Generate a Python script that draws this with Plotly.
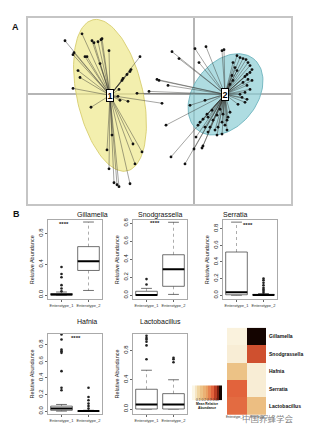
import numpy as np
import plotly.graph_objects as go

W, H = 323, 431
FONT = "Liberation Sans, Arial, sans-serif"

# ---------------- Panel A data (ordination scores) ----------------
c1_x = [-129, -112, -102, -100, -96, -93, -92, -85, -120, -121, -109, -107, -116, -114, -121,
        -54, -63, -64, -67, -72, -71, -66, -74, -76, -103, -32, -82, -87, -61, -52, -59, -85,
        -80, -77, -75, -64, -94, -75]
c1_y = [54, 61, 54, 52, 53, 55, 56, 44, 42, 40, 38, 38, 24, 17, 6,
        38, 25, 23, 20, 14, 16, -7, -6, -2, -13, -9, -41, -56, -50, -58, -70, -75,
        -89, -91, -93, -90, 31, 5]
c2_x = [-22, -15, 1, 12, 5, 28, 30, -37, -35, -26, -57, -45, -28, -23, -9, 0, 8, 9,
        46, 49, 52, 54, 56, 58, 56, 53, 51, 54, 58, 49, 53, 56, 51, 46, 48, 53, 51, 44,
        39, 41, 43, 38, 39, 36, 43,
        26, 29, 23, 19, 28, 31, 24, 16, 21, 14, 11, 6, 4, 9, 13, 18, 33, 34, 36, 28, 23, 33, 14, 2, 11, -4]
c2_y = [43, 36, 46, 48, 32, 44, 45, 15, 14, 9, 1, 3, -31, -63, -70, -55, -54, -52,
        37, 36, 35, 32, 29, 25, 22, 20, 18, 15, 14, 12, 9, 5, 2, 0, -3, -5, -8, -10,
        32, 27, 24, 19, 14, 10, 39,
        -15, -20, -21, -26, -28, -31, -33, -33, -36, -38, -33, -28, -31, -25, -20, -16, -26, -23, -18, -40, -41, -36, -23, -43, -6, -11]
centroid_x = [-84, 31]
centroid_y = [-1, 0]
centroid_labels = ["1", "2"]
# ellipse parameters: centre x, centre y, semi-major, semi-minor, angle (deg)
ell1 = (-84, -1, 78, 33, 102.6)
ell2 = (31.5, 0, 45.5, 31.8, 52.5)

# ---------------- Panel B data (box statistics) ----------------
genera = ["Gillamella", "Snodgrassella", "Serratia", "Hafnia", "Lactobacillus"]
e1_q1 = [0.0, 0.0, 0.005, 0.01, 0.0]
e1_med = [0.008, 0.004, 0.035, 0.03, 0.06]
e1_q3 = [0.02, 0.045, 0.52, 0.06, 0.27]
e1_lo = [0.0, 0.0, 0.0, 0.0, 0.0]
e1_hi = [0.04, 0.077, 0.88, 0.08, 0.53]
e1_out = [[0.05, 0.086, 0.129, 0.232, 0.275, 0.365],
          [0.12, 0.18],
          [],
          [0.25, 0.28, 0.48, 0.70, 0.72, 0.74, 0.86, 0.92],
          [0.68, 0.87, 0.92, 0.95, 0.97, 1.0]]
e2_q1 = [0.32, 0.10, 0.0, 0.0, 0.0]
e2_med = [0.44, 0.29, 0.003, 0.0, 0.06]
e2_q3 = [0.63, 0.45, 0.01, 0.005, 0.21]
e2_lo = [0.06, 0.01, 0.0, 0.0, 0.0]
e2_hi = [0.95, 0.81, 0.02, 0.01, 0.40]
e2_out = [[], [], [0.03, 0.05, 0.07, 0.09, 0.12, 0.15, 0.18, 0.2],
          [0.03, 0.06, 0.09, 0.13, 0.17, 0.28],
          [0.64, 0.68, 0.70]]
sig_x = [1.08, 1.33, 1.44, 1.54, None]
sig_y = [0.92, 0.80, 0.84, 0.88, None]
y_ranges = [[-0.05, 0.97], [-0.04, 0.83], [-0.045, 0.90], [-0.036, 0.93], [-0.07, 1.03]]
y_ticks = [[0, 0.4, 0.8], [0, 0.2, 0.4, 0.6, 0.8], [0, 0.2, 0.4, 0.6, 0.8],
           [0, 0.2, 0.4, 0.6, 0.8], [0, 0.4, 0.8]]
groups = ["Enterotype_1", "Enterotype_2"]

# heatmap data
heat_rows = ["Gillamella", "Snodgrassella", "Hafnia", "Serratia", "Lactobacillus"]
heat_e1 = [0.01, 0.02, 0.12, 0.28, 0.27]
heat_e2 = [0.47, 0.30, 0.02, 0.02, 0.13]
legend_vals = [0.0, 0.04, 0.08, 0.12, 0.16, 0.2, 0.24, 0.28, 0.32, 0.36, 0.4]
legend_ticks = "0.1 0.2 0.3 0.4+"

cscale = [[0.0, "#fbf6e6"], [0.25, "#edcb8f"], [0.5, "#e9a062"], [0.7, "#e2633c"],
          [0.85, "#a92b16"], [1.0, "#140400"]]

# ---------------- helpers ----------------
def px_x(p):
    return p / W

def px_y(p):
    return 1 - p / H

fig = go.Figure()

def ellipse(cx, cy, a, b, ang):
    t = np.linspace(0, 2 * np.pi, 120)
    th = np.deg2rad(ang)
    x = cx + a * np.cos(t) * np.cos(th) - b * np.sin(t) * np.sin(th)
    y = cy + a * np.cos(t) * np.sin(th) + b * np.sin(t) * np.cos(th)
    return x, y

ex, ey = ellipse(*ell1)
fig.add_trace(go.Scatter(x=ex, y=ey, mode="lines", fill="toself",
                         fillcolor="rgba(238,232,140,0.7)",
                         line=dict(color="rgba(215,205,110,0.9)", width=1),
                         hoverinfo="skip", showlegend=False, xaxis="x", yaxis="y"))
ex, ey = ellipse(*ell2)
fig.add_trace(go.Scatter(x=ex, y=ey, mode="lines", fill="toself",
                         fillcolor="rgba(140,205,212,0.7)",
                         line=dict(color="rgba(110,180,190,0.9)", width=1),
                         hoverinfo="skip", showlegend=False, xaxis="x", yaxis="y"))

for xs, ys, k in [(c1_x, c1_y, 0), (c2_x, c2_y, 1)]:
    lx, ly = [], []
    for a, b in zip(xs, ys):
        lx += [centroid_x[k], a, None]
        ly += [centroid_y[k], b, None]
    fig.add_trace(go.Scatter(x=lx, y=ly, mode="lines",
                             line=dict(color="rgba(55,55,50,0.5)", width=0.9),
                             hoverinfo="skip", showlegend=False, xaxis="x", yaxis="y"))
    fig.add_trace(go.Scatter(x=xs, y=ys, mode="markers",
                             marker=dict(color="#111", size=2.8),
                             hoverinfo="skip", showlegend=False, xaxis="x", yaxis="y"))

annotations = []
for cx, cy, lab in zip(centroid_x, centroid_y, centroid_labels):
    annotations.append(dict(x=cx, y=cy, xref="x", yref="y", text="<b>%s</b>" % lab,
                            showarrow=False, font=dict(family=FONT, size=9, color="black"),
                            bgcolor="white", bordercolor="black", borderwidth=1, borderpad=0.5))

# ---------------- boxplots ----------------
col_px = [(48, 102), (133, 187), (223, 277), (48, 102), (133, 187)]
row_px = [(219, 298), (219, 298), (219, 298), (333, 414), (333, 414)]
title_pos = [(75, 213), (160, 213), (250, 213), (75, 326), (160, 326)]

def add_box(xa, ya, c, q1, med, q3, lo, hi, outs):
    w = 0.4
    fig.add_trace(go.Scatter(x=[c, c, None, c, c], y=[q3, hi, None, q1, lo], mode="lines",
                             line=dict(color="#888", width=0.7, dash="dot"),
                             hoverinfo="skip", showlegend=False, xaxis=xa, yaxis=ya))
    fig.add_trace(go.Scatter(x=[c - 0.2, c + 0.2, None, c - 0.2, c + 0.2], y=[hi, hi, None, lo, lo],
                             mode="lines", line=dict(color="#333", width=0.7),
                             hoverinfo="skip", showlegend=False, xaxis=xa, yaxis=ya))
    fig.add_trace(go.Scatter(x=[c - w, c + w, c + w, c - w, c - w], y=[q1, q1, q3, q3, q1],
                             mode="lines", fill="toself", fillcolor="white",
                             line=dict(color="#333", width=0.7),
                             hoverinfo="skip", showlegend=False, xaxis=xa, yaxis=ya))
    fig.add_trace(go.Scatter(x=[c - w, c + w], y=[med, med], mode="lines",
                             line=dict(color="black", width=2),
                             hoverinfo="skip", showlegend=False, xaxis=xa, yaxis=ya))
    if outs:
        fig.add_trace(go.Scatter(x=[c] * len(outs), y=outs, mode="markers",
                                 marker=dict(color="#222", size=2.6),
                                 hoverinfo="skip", showlegend=False, xaxis=xa, yaxis=ya))

layout_axes = {}
for i, g in enumerate(genera):
    n = i + 2
    xa, ya = "x%d" % n, "y%d" % n
    add_box(xa, ya, 1, e1_q1[i], e1_med[i], e1_q3[i], e1_lo[i], e1_hi[i], e1_out[i])
    add_box(xa, ya, 2, e2_q1[i], e2_med[i], e2_q3[i], e2_lo[i], e2_hi[i], e2_out[i])
    if sig_x[i] is not None:
        annotations.append(dict(x=sig_x[i], y=sig_y[i], xref=xa, yref=ya, text="<b>****</b>",
                                showarrow=False, font=dict(family=FONT, size=6, color="#222")))
    x0, x1 = col_px[i]
    y0, y1 = row_px[i]
    layout_axes["xaxis%d" % n] = dict(domain=[px_x(x0), px_x(x1)], range=[0.5, 2.5],
                                      anchor=ya, tickvals=[1, 2], ticktext=groups,
                                      tickangle=0,
                                      tickfont=dict(family=FONT, size=4, color="#333"),
                                      ticks="outside", ticklen=2, tickcolor="#666",
                                      showline=True, linecolor="#aaa", linewidth=0.8,
                                      mirror=True, showgrid=False, zeroline=False)
    layout_axes["yaxis%d" % n] = dict(domain=[px_y(y1), px_y(y0)], range=y_ranges[i],
                                      anchor=xa, tickvals=y_ticks[i],
                                      ticktext=["%.1f" % v for v in y_ticks[i]],
                                      tickangle=-90,
                                      tickfont=dict(family=FONT, size=6, color="#222"),
                                      ticks="outside", ticklen=2, tickcolor="#666",
                                      showline=True, linecolor="#aaa", linewidth=0.8,
                                      mirror=True, showgrid=False, zeroline=False,
                                      title=dict(text="Relative Abundance", standoff=2,
                                                 font=dict(family=FONT, size=5.5, color="#222")))
    tx, ty = title_pos[i]
    annotations.append(dict(x=px_x(tx), y=px_y(ty), xref="paper", yref="paper", text=g,
                            showarrow=False, font=dict(family=FONT, size=7, color="#111")))

# ---------------- heatmap ----------------
fig.add_trace(go.Heatmap(z=[[a, b] for a, b in zip(heat_e1, heat_e2)], x=groups, y=heat_rows,
                         colorscale=cscale, zmin=0, zmax=0.4, showscale=False,
                         hoverinfo="skip", xaxis="x7", yaxis="y7"))
layout_axes["xaxis7"] = dict(domain=[px_x(227), px_x(266)], anchor="y7", showgrid=False,
                             zeroline=False, ticks="", showticklabels=False)
layout_axes["yaxis7"] = dict(domain=[px_y(415), px_y(327)], anchor="x7", side="right",
                             autorange="reversed", showgrid=False, zeroline=False, ticks="",
                             ticklabelstandoff=2,
                             tickfont=dict(family=FONT, size=5, color="#111", weight="bold"))
# column labels under the heatmap, side by side
annotations.append(dict(x=px_x(245.5), y=px_y(421), xref="paper", yref="paper",
                        xanchor="right", text=groups[0], showarrow=False,
                        font=dict(family=FONT, size=3, color="#333")))
annotations.append(dict(x=px_x(247.5), y=px_y(421), xref="paper", yref="paper",
                        xanchor="left", text=groups[1], showarrow=False,
                        font=dict(family=FONT, size=3, color="#333")))

fig.add_trace(go.Heatmap(z=[legend_vals], colorscale=cscale, zmin=0, zmax=0.4, showscale=False,
                         hoverinfo="skip", xaxis="x8", yaxis="y8"))
layout_axes["xaxis8"] = dict(domain=[px_x(192), px_x(222)], anchor="y8", visible=False)
layout_axes["yaxis8"] = dict(domain=[px_y(400), px_y(385)], anchor="x8", visible=False)
annotations.append(dict(x=px_x(207), y=px_y(404), xref="paper", yref="paper", text=legend_ticks,
                        showarrow=False, font=dict(family=FONT, size=3.3, color="#333")))
annotations.append(dict(x=px_x(207), y=px_y(412), xref="paper", yref="paper",
                        text="<b>Mean Relative<br>Abundance</b>", showarrow=False,
                        font=dict(family=FONT, size=3.3, color="#111")))

# panel letters
annotations.append(dict(x=px_x(10), y=px_y(17), xref="paper", yref="paper", text="<b>A</b>",
                        showarrow=False, font=dict(family=FONT, size=9, color="#111")))
annotations.append(dict(x=px_x(11), y=px_y(212), xref="paper", yref="paper", text="<b>B</b>",
                        showarrow=False, font=dict(family=FONT, size=9, color="#111")))
# watermark
annotations.append(dict(x=px_x(296), y=px_y(426), xref="paper", yref="paper", text="中国养蜂学会",
                        showarrow=False,
                        font=dict(family="Noto Sans CJK SC", size=8.5, color="rgba(110,110,110,0.85)")))

fig.update_layout(
    width=W, height=H, margin=dict(l=0, r=0, t=0, b=0),
    paper_bgcolor="white", plot_bgcolor="white", showlegend=False,
    xaxis=dict(domain=[px_x(28), px_x(291)], range=[-166, 97], anchor="y",
               showticklabels=False, ticks="", showgrid=False,
               zeroline=True, zerolinecolor="#b5b5b5", zerolinewidth=1.5,
               showline=True, linecolor="#c5c5c5", linewidth=1.5, mirror=True),
    yaxis=dict(domain=[px_y(202), px_y(15)], range=[-110, 77], anchor="x",
               showticklabels=False, ticks="", showgrid=False,
               zeroline=True, zerolinecolor="#b5b5b5", zerolinewidth=1.5,
               showline=True, linecolor="#c5c5c5", linewidth=1.5, mirror=True),
    annotations=annotations,
    **layout_axes,
)

fig.write_html("out.html")
